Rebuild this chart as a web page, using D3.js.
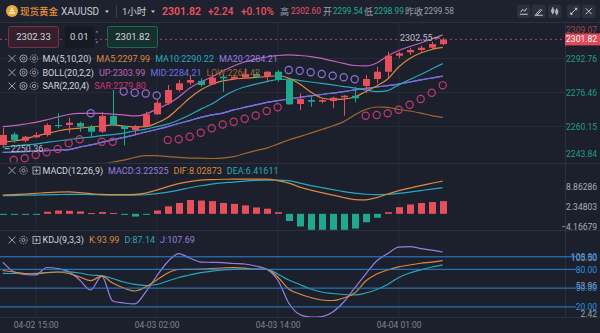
<!DOCTYPE html>
<html><head><meta charset="utf-8">
<script src="https://cdn.jsdelivr.net/npm/d3@7"></script>
<style>
html,body{margin:0;padding:0;background:#1c202c;overflow:hidden;}
svg{display:block;font-family:Roboto,"Noto Sans CJK SC",sans-serif;}
</style></head><body>
<svg id="c" width="600" height="333"></svg>
<script>
// ---------- DATA ----------
const times = ["04-02 12:00","04-02 13:00","04-02 14:00","04-02 15:00","04-02 16:00","04-02 17:00","04-02 18:00","04-02 19:00","04-02 20:00","04-02 21:00","04-02 22:00","04-02 23:00","04-03 00:00","04-03 01:00","04-03 02:00","04-03 03:00","04-03 04:00","04-03 06:00","04-03 07:00","04-03 08:00","04-03 09:00","04-03 10:00","04-03 11:00","04-03 12:00","04-03 13:00","04-03 14:00","04-03 15:00","04-03 16:00","04-03 17:00","04-03 18:00","04-03 19:00","04-03 20:00","04-03 21:00","04-03 22:00","04-03 23:00","04-04 00:00","04-04 01:00","04-04 02:00","04-04 03:00","04-04 04:00","04-04 06:00"];
const open  = [2251.18,2256.31,2253.24,2254.87,2255.97,2260.77,2260.77,2261.70,2259.96,2257.55,2265.09,2260.30,2258.37,2260.30,2265.90,2271.18,2277.56,2281.06,2281.87,2280.29,2283.94,2282.83,2283.46,2285.23,2283.94,2286.33,2282.35,2270.84,2272.76,2271.95,2272.28,2274.05,2274.82,2279.48,2282.83,2286.33,2294.00,2295.64,2296.74,2297.84,2299.54];
const high  = [2259.33,2257.40,2255.60,2257.30,2261.60,2266.40,2264.30,2262.35,2260.77,2266.86,2277.56,2260.50,2260.77,2267.15,2272.76,2279.96,2282.35,2284.75,2283.17,2285.57,2284.75,2284.75,2287.96,2286.33,2286.67,2287.15,2282.83,2275.97,2274.34,2273.24,2274.34,2275.16,2279.14,2284.75,2288.73,2295.93,2295.93,2297.84,2298.80,2300.72,2302.55];
const low   = [2250.36,2252.10,2252.50,2254.40,2255.20,2259.20,2256.90,2257.55,2255.16,2256.93,2260.30,2251.00,2255.97,2259.96,2265.60,2270.36,2276.74,2279.96,2279.14,2279.96,2276.74,2282.35,2283.17,2283.17,2281.25,2281.54,2270.36,2267.96,2269.55,2271.18,2268.78,2265.23,2271.66,2275.97,2280.77,2283.17,2292.76,2294.34,2295.93,2297.22,2298.99];
const close = [2255.97,2253.58,2255.16,2255.97,2260.77,2260.30,2261.87,2259.96,2257.55,2265.09,2260.77,2258.85,2260.30,2265.90,2271.47,2277.56,2280.77,2282.35,2279.96,2283.46,2283.17,2283.94,2285.23,2283.94,2286.33,2282.35,2270.70,2273.24,2271.95,2272.76,2273.86,2274.82,2273.57,2282.83,2286.33,2294.00,2295.16,2296.74,2297.84,2299.58,2301.82];

const ma5  = [2252.6,2253.1,2254.0,2255.5,2256.7,2257.9,2258.8,2259.3,2259.8,2260.3,2260.8,2260.3,2259.8,2260.0,2261.7,2264.4,2268.9,2273.7,2277.6,2280.2,2281.9,2282.8,2283.2,2283.6,2284.0,2284.4,2283.3,2280.4,2276.6,2273.7,2273.0,2273.2,2274.2,2276.8,2279.5,2282.8,2288.6,2292.7,2295.3,2297.0,2297.99];
const ma10 = [2250.2,2250.7,2251.2,2251.6,2252.4,2253.1,2253.8,2254.5,2255.0,2255.7,2256.2,2256.9,2257.9,2258.8,2260.0,2261.2,2263.2,2265.6,2268.4,2270.8,2274.2,2277.1,2279.0,2280.4,2281.6,2282.6,2282.8,2282.1,2281.4,2280.7,2280.0,2279.2,2278.5,2277.6,2276.8,2277.3,2280.0,2282.6,2285.0,2287.6,2290.22];
const ma20 = [2247.6,2247.8,2248.0,2248.3,2248.5,2248.8,2249.0,2250.2,2251.2,2252.4,2253.6,2254.8,2256.0,2257.4,2258.6,2260.0,2261.5,2262.9,2264.4,2265.6,2266.5,2268.0,2269.2,2270.4,2271.6,2272.5,2273.2,2274.0,2274.7,2275.4,2276.1,2276.8,2277.6,2278.3,2279.0,2279.7,2280.4,2281.4,2282.4,2283.3,2284.21];
const bollUp  = [2260.0,2260.5,2261.2,2262.0,2263.2,2264.6,2265.8,2266.3,2266.3,2266.3,2266.0,2265.6,2265.1,2266.0,2268.4,2270.8,2274.2,2278.5,2281.4,2283.8,2286.7,2289.1,2291.0,2292.4,2293.4,2294.1,2294.4,2294.1,2293.6,2292.7,2291.5,2290.3,2289.3,2289.1,2290.5,2293.9,2296.5,2298.4,2300.1,2302.0,2303.99];
const bollMid = [2247.6,2247.8,2248.0,2248.3,2248.5,2248.8,2249.0,2250.2,2251.2,2252.4,2253.6,2254.8,2256.0,2257.4,2258.6,2260.0,2261.5,2262.9,2264.4,2265.6,2266.5,2268.0,2269.2,2270.4,2271.6,2272.5,2273.2,2274.0,2274.7,2275.4,2276.1,2276.8,2277.6,2278.3,2279.0,2279.7,2280.4,2281.4,2282.4,2283.3,2284.21];
const bollLow = [2236.3,2236.5,2237.0,2237.7,2238.2,2238.7,2239.2,2240.1,2241.1,2242.0,2243.0,2243.9,2245.2,2246.1,2246.1,2245.6,2245.2,2244.9,2244.9,2244.7,2244.9,2245.6,2247.1,2248.5,2249.7,2251.6,2253.6,2255.2,2256.9,2258.6,2260.3,2262.4,2265.6,2268.2,2269.4,2269.2,2268.2,2267.5,2266.5,2265.3,2264.42];
const sar = [null,2243.98,2244.80,2246.38,2247.68,2249.26,2251.99,2253.91,2266.38,2252.76,2252.76,2276.84,2276.26,2275.88,2274.92,2253.58,2253.91,2255.16,2257.08,2259.19,2261.01,2262.35,2263.79,2265.33,2267.49,2269.26,2287.15,2286.81,2286.05,2285.23,2284.42,2283.65,2282.69,2265.23,2265.57,2266.38,2268.06,2270.51,2273.24,2276.21,2279.80];

const macdHist = [-0.25,-0.3,-0.3,-0.25,0.7,1.1,1.0,0.8,0.25,0.6,0.3,-0.3,-0.9,-0.3,1.1,2.5,3.6,4.6,4.4,4.2,3.6,3.3,2.8,2.1,1.7,0.55,-2.4,-4.2,-5.3,-5.3,-5.3,-5.3,-4.9,-2.8,-1.3,0.55,2.2,3.1,3.6,3.9,4.2];
const dif = [6.23,6.39,6.56,6.79,7.05,7.22,7.28,7.05,6.72,6.46,6.39,6.39,6.46,6.89,7.88,9.04,10.03,10.70,11.19,11.36,11.46,11.52,11.52,11.52,11.52,11.03,10.2,8.87,7.88,7.05,6.23,5.40,4.74,4.64,5.40,6.56,7.72,8.54,9.37,10.13,10.86];
const dea = [5.99,6.06,6.16,6.23,6.29,6.39,6.46,6.46,6.39,6.29,6.23,6.23,6.23,6.32,6.72,7.22,7.88,8.64,9.30,9.87,10.26,10.53,10.86,11.09,11.19,11.19,11.03,10.2,9.37,8.71,8.05,7.38,6.89,6.49,6.39,6.46,6.79,7.22,7.72,8.21,8.64];

const kdjK = [78.1,75.7,73.3,72.5,74.9,75.7,73.3,67.7,61.8,69.3,58.1,50.2,45.4,51.8,62.9,74.1,79.7,80.0,80.2,81.3,82.1,82.6,81.8,80.0,80.0,67.7,48.6,40.6,35.0,31.0,30.2,34.2,42.2,61.3,72.5,78.9,84.0,86.9,89.7,91.6,93.99];
const kdjD = [73.6,73.3,73.3,73.6,74.6,75.7,76.0,74.1,70.9,69.8,65.3,59.7,56.1,54.2,55.8,61.3,66.9,70.9,74.6,77.0,78.9,80.0,80.2,80.2,80.0,72.5,62.9,55.8,48.6,43.8,41.4,39.8,39.0,42.2,47.8,55.8,66.9,74.1,79.2,83.7,87.14];
const kdjJ = [91.6,76.2,71.7,70.9,82.9,81.3,76.5,62.9,47.0,69.3,29.4,26.3,24.7,43.8,69.3,92.1,105.2,98.0,91.6,91.2,90.8,89.3,88.5,85.3,80.0,62.9,26.3,7.9,3.9,4.7,11.9,27.8,50.2,72.5,93.2,105.2,115.6,116.4,113.2,110.8,107.69];

const priceTicks = [2243.84,2260.15,2276.46,2292.76,2309.07];
const macdTicks = [-4.16679,2.34803,8.86286];
const kdjLevels = [20,50,80,100];
const kdjTicks = [2.42,53.96,105.50];
const timeTicks = ["04-02 15:00","04-03 02:00","04-03 14:00","04-04 01:00"];
const lastPrice = 2301.82, prevClose = 2299.58;

// ---------- COLORS ----------
const UP="#e6505c", DN="#1fa88f", BG="#1c202c", GRID="#262b37", TXT="#d3d6dc", MUTE="#9ba0aa";
const cMA5="#d98a3d", cMA10="#26a8bd", cMA20="#9a7de0", cUP="#c263b8", cMID="#6d70e6", cLOW="#a4652f", cSARup="#c23a6e", cSARdn="#8b74d6";
const cDIF="#d98a3d", cDEA="#26a8bd", cMACD="#9a7de0", cLvl="#2a85d6";

// ---------- SETUP ----------
const svg = d3.select("#c");
svg.append("rect").attr("width",600).attr("height",333).attr("fill",BG);
const defs = svg.append("defs");
function clip(id,y0,y1){defs.append("clipPath").attr("id",id).append("rect").attr("x",0).attr("y",y0).attr("width",565).attr("height",y1-y0);}
clip("cMain",23,162.5); clip("cMacd",164,230); clip("cKdj",231,317);

const x = d3.scalePoint().domain(times).range([2.7,442.7]);
const yMain = d3.scaleLinear().domain([2243.84,2309.07]).range([160.3,24.3]);
const yMacd = d3.scaleLinear().domain([-4.16679,8.86286]).range([226.4,187.1]);
const yKdj = d3.scaleLinear().domain([20,100]).range([306.9,256.8]);

// top bar
svg.append("rect").attr("width",600).attr("height",22).attr("fill","#1e222e");
// grid
const grid = svg.append("g");
grid.selectAll("line.v").data(timeTicks).join("line")
  .attr("x1",d=>x(d)).attr("x2",d=>x(d)).attr("y1",23).attr("y2",317)
  .attr("stroke",GRID).attr("stroke-width",1);
grid.selectAll("line.h").data(priceTicks.slice(1,4)).join("line")
  .attr("x1",0).attr("x2",565).attr("y1",d=>Math.round(yMain(d))+0.5).attr("y2",d=>Math.round(yMain(d))+0.5)
  .attr("stroke",GRID);
// separators
[[0,600,22.5,22.5],[0,600,163.5,163.5],[0,600,230.5,230.5],[0,600,317.5,317.5],[565.5,565.5,23,317]].forEach(s=>{
  svg.append("line").attr("x1",s[0]).attr("x2",s[1]).attr("y1",s[2]).attr("y2",s[3]).attr("stroke","#2b303c");
});

// ---------- MAIN PANE ----------
const gm = svg.append("g").attr("clip-path","url(#cMain)");
function lineOn(g, yS, arr, color, w){
  g.append("path").datum(arr).attr("fill","none").attr("stroke",color).attr("stroke-width",w||1.2)
   .attr("d", d3.line().defined(d=>d!=null).x((d,i)=>x(times[i])).y(d=>yS(d)).curve(d3.curveMonotoneX));
}
lineOn(gm,yMain,bollLow,cLOW);
lineOn(gm,yMain,bollUp,cUP);
lineOn(gm,yMain,ma20,cMA20);
lineOn(gm,yMain,bollMid,cMID);
lineOn(gm,yMain,ma10,cMA10);
lineOn(gm,yMain,ma5,cMA5);

// current price dashed line
svg.append("line").attr("x1",0).attr("x2",565).attr("y1",yMain(lastPrice)).attr("y2",yMain(lastPrice))
  .attr("stroke","#a8434e").attr("stroke-dasharray","2,3").attr("stroke-width",1);

const candles = gm.append("g").selectAll("g").data(times).join("g");
candles.append("line")
  .attr("x1",d=>Math.round(x(d))+0.5).attr("x2",d=>Math.round(x(d))+0.5)
  .attr("y1",(d,i)=>yMain(high[i])).attr("y2",(d,i)=>yMain(low[i]))
  .attr("stroke",(d,i)=>close[i]>=open[i]?UP:DN);
candles.append("rect")
  .attr("x",d=>Math.round(x(d))-3).attr("width",7)
  .attr("y",(d,i)=>yMain(Math.max(open[i],close[i])))
  .attr("height",(d,i)=>Math.max(1,Math.abs(yMain(open[i])-yMain(close[i]))))
  .attr("fill",(d,i)=>close[i]>=open[i]?UP:DN);

gm.append("g").selectAll("circle").data(times.filter((d,i)=>sar[i]!=null)).join("circle")
  .attr("cx",d=>x(d)).attr("cy",d=>yMain(sar[times.indexOf(d)])).attr("r",3.6)
  .attr("fill","none").attr("stroke-width",1.2)
  .attr("stroke",d=>{const i=times.indexOf(d);return sar[i]>close[i]?cSARdn:cSARup;});

// high/low markers
const iHi = d3.maxIndex(high), iLo = d3.minIndex(low);
svg.append("line").attr("x1",x(times[iHi])-9).attr("x2",x(times[iHi])-3).attr("y1",yMain(high[iHi])).attr("y2",yMain(high[iHi])).attr("stroke","#b9bdc6");
svg.append("text").attr("x",x(times[iHi])-10).attr("y",yMain(high[iHi])).attr("dy","0.35em").attr("text-anchor","end")
  .attr("font-size",9).attr("fill","#b9bdc6").text(high[iHi].toFixed(2));
svg.append("line").attr("x1",x(times[iLo])+2).attr("x2",x(times[iLo])+7).attr("y1",yMain(low[iLo])+2).attr("y2",yMain(low[iLo])+2).attr("stroke","#b9bdc6");
svg.append("text").attr("x",x(times[iLo])+8).attr("y",yMain(low[iLo])+2).attr("dy","0.35em")
  .attr("font-size",9).attr("fill","#b9bdc6").text(low[iLo].toFixed(2));

// price axis
const ax = svg.append("g").attr("transform","translate(598,0)")
  .call(d3.axisLeft(yMain).tickValues(priceTicks).tickFormat(d3.format(".2f")).tickSize(0).tickPadding(1));
ax.select(".domain").remove();
ax.selectAll("text").attr("font-size",8.5).attr("font-family","Roboto")
  .attr("fill",d=>d>prevClose?"#a9434c":"#1d9d86")
  .attr("dy",d=>d===priceTicks[0]?"-0.5em":(d===priceTicks[4]?"1.0em":"0.32em"));
// last price label
svg.append("rect").attr("x",565).attr("y",yMain(lastPrice)-6).attr("width",35).attr("height",12).attr("fill","#e04b57");
svg.append("text").attr("x",597).attr("y",yMain(lastPrice)).attr("dy","0.35em").attr("text-anchor","end")
  .attr("font-size",8.5).attr("fill","#fff").text(lastPrice.toFixed(2));

// ---------- MACD PANE ----------
const gmac = svg.append("g").attr("clip-path","url(#cMacd)");
gmac.selectAll("rect").data(times).join("rect")
  .attr("x",d=>Math.round(x(d))-3).attr("width",7)
  .attr("y",(d,i)=>Math.min(yMacd(0),yMacd(macdHist[i])))
  .attr("height",(d,i)=>Math.max(1,Math.abs(yMacd(macdHist[i])-yMacd(0))))
  .attr("fill",(d,i)=>macdHist[i]>=0?UP:DN);
lineOn(gmac,yMacd,dea,cDEA);
lineOn(gmac,yMacd,dif,cDIF);
const axm = svg.append("g").attr("transform","translate(598,0)")
  .call(d3.axisLeft(yMacd).tickValues(macdTicks).tickFormat(d3.format(".5f")).tickSize(0).tickPadding(1));
axm.select(".domain").remove();
axm.selectAll("text").attr("font-size",8.5).attr("fill","#a9adb6").attr("font-family","Roboto");

// ---------- KDJ PANE ----------
const gk = svg.append("g").attr("clip-path","url(#cKdj)");
svg.append("g").selectAll("line").data(kdjLevels).join("line")
  .attr("x1",0).attr("x2",576).attr("y1",d=>yKdj(d)).attr("y2",d=>yKdj(d))
  .attr("stroke",cLvl).attr("stroke-width",1);
lineOn(gk,yKdj,kdjJ,cMACD);
lineOn(gk,yKdj,kdjD,cDEA);
lineOn(gk,yKdj,kdjK,cDIF);
const axk2 = svg.append("g").attr("transform","translate(598,0)")
  .call(d3.axisLeft(yKdj).tickValues(kdjTicks).tickFormat(d3.format(".2f")).tickSize(0).tickPadding(1));
axk2.select(".domain").remove();
axk2.selectAll("text").attr("font-size",8.5).attr("fill","#9ca1ab").attr("font-family","Roboto")
  .attr("dy",d=>d===kdjTicks[0]?"-0.2em":(d===kdjTicks[2]?"0.8em":"0.32em"));
const axk = svg.append("g").attr("transform","translate(598,0)")
  .call(d3.axisLeft(yKdj).tickValues(kdjLevels).tickFormat(d3.format(".2f")).tickSize(0).tickPadding(1));
axk.select(".domain").remove();
axk.selectAll("text").attr("font-size",8.5).attr("fill","#2f8ee0").attr("font-family","Roboto");

// ---------- TIME AXIS ----------
const axt = svg.append("g").attr("transform","translate(0,320)")
  .call(d3.axisBottom(x).tickValues(timeTicks).tickSize(0).tickPadding(2));
axt.select(".domain").remove();
axt.selectAll("text").attr("font-size",8.5).attr("fill","#80858f").attr("font-family","Roboto");

// ---------- LEGENDS ----------
function iconX(y){svg.append("path").attr("d",`M8.5,${y-3.5}L15.5,${y+3.5}M15.5,${y-3.5}L8.5,${y+3.5}`).attr("stroke",MUTE).attr("stroke-width",1);}
function iconEye(cx,y){svg.append("circle").attr("cx",cx).attr("cy",y).attr("r",3.6).attr("fill","none").attr("stroke",MUTE);
  svg.append("circle").attr("cx",cx).attr("cy",y).attr("r",1.4).attr("fill","none").attr("stroke",MUTE);}
function iconGear(cx,y){svg.append("circle").attr("cx",cx).attr("cy",y).attr("r",3.8).attr("fill","none").attr("stroke",MUTE).attr("stroke-dasharray","1.5,1");
  svg.append("circle").attr("cx",cx).attr("cy",y).attr("r",1.6).attr("fill","none").attr("stroke",MUTE);}
function iconPlus(cx,y){svg.append("rect").attr("x",cx-3.5).attr("y",y-3.5).attr("width",7).attr("height",7).attr("fill","none").attr("stroke",MUTE);
  svg.append("path").attr("d",`M${cx-2},${y}H${cx+2}M${cx},${y-2}V${y+2}`).attr("stroke",MUTE);}
function legend(y, items, third){
  iconX(y); if(third==="plus"){iconGear(23.5,y); iconPlus(36.5,y);} else {iconEye(23.5,y); iconGear(34,y);}
  let cx = 42.5;
  items.forEach(it=>{
    const t = svg.append("text").attr("x",cx).attr("y",y).attr("dy","0.35em").attr("font-size",9).attr("fill",it[1]).text(it[0]);
    cx += t.node().getComputedTextLength() + 5;
  });
}
legend(58.5,[["MA(5,10,20)",TXT],["MA5:2297.99",cMA5],["MA10:2290.22",cMA10],["MA20:2284.21",cMA20]]);
legend(72.5,[["BOLL(20,2,2)",TXT],["UP:2303.99",cUP],["MID:2284.21",cMID],["LOW:2264.42",cLOW]]);
legend(86,[["SAR(2,20,4)",TXT],["SAR:2279.80","#d0356f"]]);
legend(170.5,[["MACD(12,26,9)",TXT],["MACD:3.22525",cMACD],["DIF:8.02873",cDIF],["DEA:6.41611",cDEA]],"plus");
legend(240,[["KDJ(9,3,3)",TXT],["K:93.99",cDIF],["D:87.14",cDEA],["J:107.69",cMACD]],"plus");

// ---------- ORDER BOXES ----------
svg.append("rect").attr("x",8.5).attr("y",26.5).attr("width",50).attr("height",21).attr("rx",2).attr("fill","#35212d").attr("stroke","#7a3343");
svg.append("text").attr("x",33.5).attr("y",37).attr("dy","0.35em").attr("text-anchor","middle").attr("font-size",9.5).attr("fill",TXT).text("2302.33");
svg.append("rect").attr("x",65).attr("y",26.5).attr("width",29).attr("height",21).attr("fill","#151922");
svg.append("text").attr("x",70).attr("y",37).attr("dy","0.35em").attr("font-size",9.5).attr("fill",TXT).text("0.01");
svg.append("path").attr("d","M95.5,32.5l1.5,-2l1.5,2z M95.5,41.5l1.5,2l1.5,-2z").attr("fill","#7d828c");
svg.append("rect").attr("x",107.5).attr("y",26.5).attr("width",50).attr("height",21).attr("rx",2).attr("fill","#16302d").attr("stroke","#1d6a5a");
svg.append("text").attr("x",132.5).attr("y",37).attr("dy","0.35em").attr("text-anchor","middle").attr("font-size",9.5).attr("fill",TXT).text("2301.82");

// ---------- TOP BAR ----------
svg.append("circle").attr("cx",12).attr("cy",11).attr("r",6).attr("fill","#e8a93a");
svg.append("path").attr("d","M9,13h6M10,10.5h4M11,8.5h2").attr("stroke","#fff2cf").attr("stroke-width",1.3);
function tt(xp,txt,color,size,weight){svg.append("text").attr("x",xp).attr("y",11.5).attr("dy","0.35em").attr("font-size",size||10.5).attr("font-weight",weight||400).attr("fill",color).text(txt);}
tt(20,"现货黄金","#e8923a",9.5,500);
tt(61,"XAUUSD","#c6cad2",10);
svg.append("path").attr("d","M105,10.5h4l-2,2.5z").attr("fill","#c6cad2");
svg.append("line").attr("x1",116.5).attr("x2",116.5).attr("y1",5).attr("y2",18).attr("stroke","#3a3f4b");
tt(122,"1小时","#c6cad2",9.5);
svg.append("path").attr("d","M151,10.5h4l-2,2.5z").attr("fill","#c6cad2");
tt(162,"2301.82","#ef5360",10.5,600);
tt(208,"+2.24","#ef5360",10,500);
tt(241,"+0.10%","#ef5360",10,500);
tt(280,"高","#9ba0aa",9);
tt(291,"2302.60","#ef5360",8.2);
tt(323,"开","#9ba0aa",9);
tt(333,"2299.54","#1fb093",8.2);
tt(364,"低","#9ba0aa",9);
tt(374,"2298.99","#1fb093",8.2);
tt(405,"昨收","#9ba0aa",9);
tt(424,"2299.58","#9ba0aa",8.2);
[517,532,548,567,582].forEach((bx,k)=>{
  svg.append("rect").attr("x",bx).attr("y",4.5).attr("width",13.5).attr("height",13.5).attr("rx",2).attr("fill","#2b303c");
  const cx=bx+6.75, cy=11.25; let d="";
  if(k===0) d=`M${cx-4},${cy+3}H${cx+4}M${cx-3},${cy+1}L${cx-1},${cy-2}L${cx+1},${cy}L${cx+3},${cy-3}`;
  if(k===1) d=`M${cx-3},${cy+3}L${cx+2},${cy-2}L${cx+3},${cy-1}L${cx-2},${cy+4}Z M${cx-4},${cy+4}H${cx+4}`;
  if(k===2) d=`M${cx-2},${cy-4}V${cy+3}M${cx+2},${cy-3}V${cy+4}M${cx-3},${cy-2}h2v3h-2zM${cx+1},${cy-1}h2v3h-2z`;
  if(k===3) d=`M${cx-3},${cy+3}L${cx+3},${cy-3}M${cx+1},${cy-3}H${cx+3}V${cy-1}M${cx-3},${cy+1}V${cy+3}H${cx-1}`;
  if(k===4) d=`M${cx-3},${cy-3}L${cx+3},${cy+3}M${cx+3},${cy-3}L${cx-3},${cy+3}`;
  svg.append("path").attr("d",d).attr("stroke","#c3c7cf").attr("stroke-width",1).attr("fill","none");
});
</script>
</body></html>
